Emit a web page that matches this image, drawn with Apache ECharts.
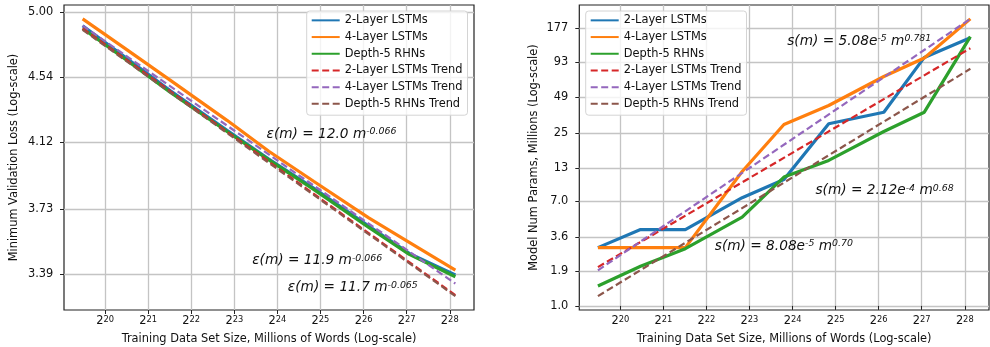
<!DOCTYPE html>
<html>
<head>
<meta charset="utf-8">
<script src="https://cdn.jsdelivr.net/npm/echarts@6/dist/echarts.min.js"></script>
<style>
  html, body { margin: 0; padding: 0; background: #fff; }
  #main { width: 990px; height: 347px; }
</style>
</head>
<body>
<div id="main"></div>
<script>
// training set size, given as log2 of the number of words
var sizeLog2 = [19.48, 20.47, 21.51, 22.83, 23.8, 24.84, 26.12, 27.06, 28.13];
var trendLog2 = [19.48, 28.13];
var xTicks = [20, 21, 22, 23, 24, 25, 26, 27, 28];

// minimum validation loss
var loss2Layer = [4.90, 4.675, 4.45, 4.195, 4.02, 3.85, 3.64, 3.495, 3.385];
var loss4Layer = [4.95, 4.736, 4.52, 4.258, 4.067, 3.89, 3.684, 3.553, 3.409];
var lossRHN = [4.88, 4.662, 4.439, 4.188, 4.015, 3.843, 3.632, 3.49, 3.376];
var lossTrend2Layer = [4.88, 3.285];
var lossTrend4Layer = [4.90, 3.342];
var lossTrendRHN = [4.87, 3.28];
var lossTicks = ['3.39', '3.73', '4.12', '4.54', '5.00'];

// model size, millions of params
var params2Layer = [2.96, 4.14, 4.14, 7.5, 10.5, 29.7, 36.8, 102, 147];
var params4Layer = [2.96, 2.96, 2.96, 12.2, 29.3, 41.7, 71.5, 101, 209];
var paramsRHN = [1.45, 2.09, 2.9, 5.23, 11.0, 15.0, 25.7, 36.8, 150];
var paramsTrend2Layer = [2.06, 121];
var paramsTrend4Layer = [1.94, 209];
var paramsTrendRHN = [1.20, 82.5];
var paramTicks = ['1.0', '1.9', '3.6', '7.0', '13', '25', '49', '93', '177'];

var names = ['2-Layer LSTMs', '4-Layer LSTMs', 'Depth-5 RHNs',
  '2-Layer LSTMs Trend', '4-Layer LSTMs Trend', 'Depth-5 RHNs Trend'];
var colors = ['#1f77b4', '#ff7f0e', '#2ca02c', '#d62728', '#9467bd', '#8c564b'];

var FONT = 'DejaVu Sans';
var TXT = '#111';

function pairs(xs, ys) {
  return xs.map(function (x, i) { return [x, Math.log(ys[i])]; });
}

// fit text: main part + superscript parts
var annoRich = {
  m: { fontFamily: FONT, fontStyle: 'italic', fontSize: 13.7, color: TXT },
  s: { fontFamily: FONT, fontStyle: 'italic', fontSize: 9.4, color: TXT, verticalAlign: 'top' }
};

function anno(x, v, text) {
  return { coord: [x, Math.log(v)], label: { formatter: text } };
}

function mkLine(idx, k, xs, ys, marks) {
  var dashed = k >= 3;
  var s = {
    name: names[k],
    type: 'line',
    xAxisIndex: idx,
    yAxisIndex: idx,
    data: pairs(xs, ys),
    symbol: 'none',
    z: 3,
    lineStyle: {
      color: colors[k],
      width: dashed ? 2.2 : 3.2,
      type: dashed ? [7, 3.5] : 'solid',
      cap: 'butt'
    },
    itemStyle: { color: colors[k] }
  };
  if (marks) {
    s.markPoint = {
      symbol: 'circle',
      symbolSize: 1,
      itemStyle: { color: 'rgba(0,0,0,0)' },
      label: { show: true, position: 'right', distance: 0, rich: annoRich },
      data: marks
    };
  }
  return s;
}

function xAxisOpt(idx) {
  return {
    type: 'value',
    gridIndex: idx,
    min: function (e) { return e.min - 0.05 * (e.max - e.min); },
    max: function (e) { return e.max + 0.05 * (e.max - e.min); },
    axisLine: { show: false },
    axisTick: { show: true, length: 4, customValues: xTicks, lineStyle: { color: '#222' } },
    splitLine: { show: true, lineStyle: { color: '#c4c4c4', width: 1.3 } },
    axisLabel: {
      customValues: xTicks,
      margin: 6,
      formatter: function (v) { return '{b|2}{s|' + Math.round(v) + '}'; },
      rich: {
        b: { fontFamily: FONT, fontSize: 11.4, color: TXT },
        s: { fontFamily: FONT, fontSize: 8.3, color: TXT, verticalAlign: 'top' }
      }
    },
    name: 'Training Data Set Size, Millions of Words (Log-scale)',
    nameLocation: 'middle',
    nameGap: 24,
    nameTextStyle: { fontFamily: FONT, fontSize: 11.4, color: TXT }
  };
}

function yAxisOpt(idx, ticks, title, gap, margin) {
  var vals = ticks.map(function (t) { return Math.log(parseFloat(t)); });
  return {
    type: 'value',
    gridIndex: idx,
    min: function (e) { return e.min - 0.05 * (e.max - e.min); },
    max: function (e) { return e.max + 0.05 * (e.max - e.min); },
    axisLine: { show: false },
    axisTick: { show: true, length: 4, customValues: vals, lineStyle: { color: '#222' } },
    splitLine: { show: true, lineStyle: { color: '#c4c4c4', width: 1.3 } },
    axisLabel: {
      customValues: vals,
      margin: margin,
      fontFamily: FONT,
      fontSize: 11.4,
      color: TXT,
      formatter: function (v) {
        for (var i = 0; i < vals.length; i++) {
          if (Math.abs(vals[i] - v) < 1e-6) return ticks[i];
        }
        return '';
      }
    },
    name: title,
    nameLocation: 'middle',
    nameGap: gap,
    nameTextStyle: { fontFamily: FONT, fontSize: 11.4, color: TXT }
  };
}

function legendOpt(left) {
  return {
    orient: 'vertical',
    left: left,
    top: 11,
    itemWidth: 28,
    itemHeight: 2,
    itemGap: 0,
    padding: [1, 5, 3, 4],
    backgroundColor: 'rgba(255,255,255,0.8)',
    borderColor: '#d4d4d4',
    borderWidth: 1,
    borderRadius: 3,
    itemStyle: { opacity: 0 },
    textStyle: { fontFamily: FONT, fontSize: 11.4, color: TXT, lineHeight: 16.7 },
    data: names
  };
}

var chart = echarts.init(document.getElementById('main'), null, { renderer: 'canvas' });

chart.setOption({
  animation: false,
  backgroundColor: '#fff',
  grid: [
    { left: 64, top: 5, width: 410, height: 305, outerBoundsMode: 'none', show: true, borderColor: '#222', borderWidth: 1.2, backgroundColor: 'transparent' },
    { left: 579.3, top: 5, width: 409.7, height: 305, outerBoundsMode: 'none', show: true, borderColor: '#222', borderWidth: 1.2, backgroundColor: 'transparent' }
  ],
  legend: [legendOpt(306.7), legendOpt(585.7)],
  xAxis: [xAxisOpt(0), xAxisOpt(1)],
  yAxis: [
    yAxisOpt(0, lossTicks, 'Minimum Validation Loss (Log-scale)', 44, 10.7),
    yAxisOpt(1, paramTicks, 'Model Num Params, Millions (Log-scale)', 39.5, 11)
  ],
  series: [
    mkLine(0, 0, sizeLog2, loss2Layer),
    mkLine(0, 1, sizeLog2, loss4Layer),
    mkLine(0, 2, sizeLog2, lossRHN),
    mkLine(0, 3, trendLog2, lossTrend2Layer, [anno(23.403, 3.456, '{m|ε(m) = 11.9 m}{s|-0.066}')]),
    mkLine(0, 4, trendLog2, lossTrend4Layer, [anno(23.735, 4.169, '{m|ε(m) = 12.0 m}{s|-0.066}')]),
    mkLine(0, 5, trendLog2, lossTrendRHN, [anno(24.23, 3.322, '{m|ε(m) = 11.7 m}{s|-0.065}')]),

    mkLine(1, 0, sizeLog2, params2Layer),
    mkLine(1, 1, sizeLog2, params4Layer),
    mkLine(1, 2, sizeLog2, paramsRHN),
    mkLine(1, 3, trendLog2, paramsTrend2Layer, [anno(24.521, 8.50, '{m|s(m) = 2.12e}{s|-4}{m| m}{s|0.68}')]),
    mkLine(1, 4, trendLog2, paramsTrend4Layer, [anno(23.864, 138.5, '{m|s(m) = 5.08e}{s|-5}{m| m}{s|0.781}')]),
    mkLine(1, 5, trendLog2, paramsTrendRHN, [anno(22.183, 3.05, '{m|s(m) = 8.08e}{s|-5}{m| m}{s|0.70}')])
  ]
});
</script>
</body>
</html>
